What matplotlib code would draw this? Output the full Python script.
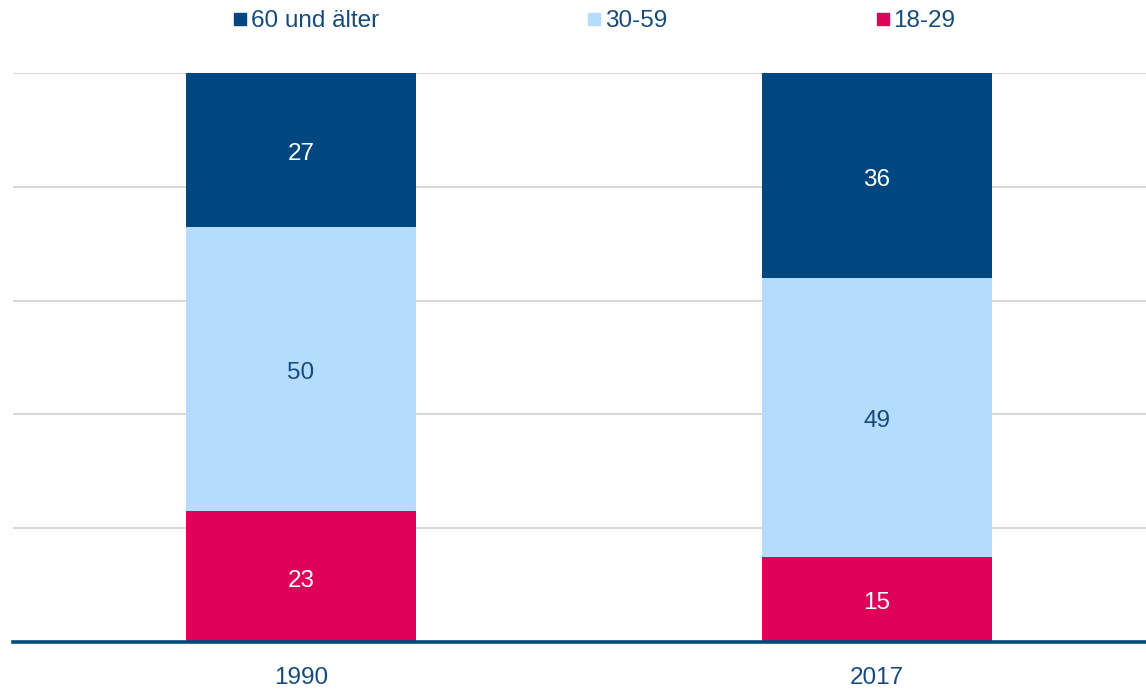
import matplotlib
matplotlib.use("Agg")
import matplotlib.pyplot as plt
from matplotlib.lines import Line2D

plt.rcParams['font.family'] = ['Liberation Sans', 'DejaVu Sans']

years = ["1990", "2017"]
series_names = ["60 und älter", "30-59", "18-29"]
v_18_29 = [23, 15]
v_30_59 = [50, 49]
v_60 = [27, 36]

c_dark = "#00477F"
c_light = "#B5DCFD"
c_red = "#DE0059"
text_blue = "#174A7C"

fig = plt.figure(figsize=(11.46, 6.90), dpi=100)
ax = fig.add_axes([13/1146, 1-642/690, 1133/1146, (642-73)/690])

x = list(range(len(years)))
w = 0.40
b1 = ax.bar(x, v_18_29, width=w, color=c_red, zorder=3)
bottom2 = v_18_29
b2 = ax.bar(x, v_30_59, width=w, bottom=bottom2, color=c_light, zorder=3)
bottom3 = [a + b for a, b in zip(v_18_29, v_30_59)]
b3 = ax.bar(x, v_60, width=w, bottom=bottom3, color=c_dark, zorder=3)

fs = 17.5
anns = []
anns += ax.bar_label(b1, labels=[str(v) for v in v_18_29], label_type='center', color='white', fontsize=fs)
anns += ax.bar_label(b2, labels=[str(v) for v in v_30_59], label_type='center', color=text_blue, fontsize=fs)
anns += ax.bar_label(b3, labels=[str(v) for v in v_60], label_type='center', color='white', fontsize=fs)
for a in anns:
    a.xyann = (0, -3)

ax.set_xlim(-0.500, 1.467)
ax.set_ylim(0, 100)
ax.set_yticks([20, 40, 60, 80, 100])
ax.yaxis.grid(True, color="#D9D9D9", linewidth=1.5, zorder=0)
ax.set_axisbelow(True)
ax.tick_params(axis='y', left=False, labelleft=False)
ax.tick_params(axis='x', length=0, pad=18, labelsize=fs, labelcolor=text_blue)
ax.set_xticks(x)
ax.set_xticklabels(years)
for s in ['top', 'right', 'left']:
    ax.spines[s].set_visible(False)
ax.spines['bottom'].set_color("#004A80")
ax.spines['bottom'].set_linewidth(2.6)
ax.spines['bottom'].set_zorder(4)

handles = [Line2D([], [], marker='s', linestyle='none', markersize=9, color=c) for c in [c_dark, c_light, c_red]]
leg = fig.legend(handles, series_names, loc='center', bbox_to_anchor=(0.519, 1-21/690), ncol=3,
                 frameon=False, fontsize=fs, handlelength=0.5, handletextpad=0.2,
                 columnspacing=8.6, borderaxespad=0)
for t in leg.get_texts():
    t.set_color(text_blue)

fig.savefig("out.png", dpi=100)
